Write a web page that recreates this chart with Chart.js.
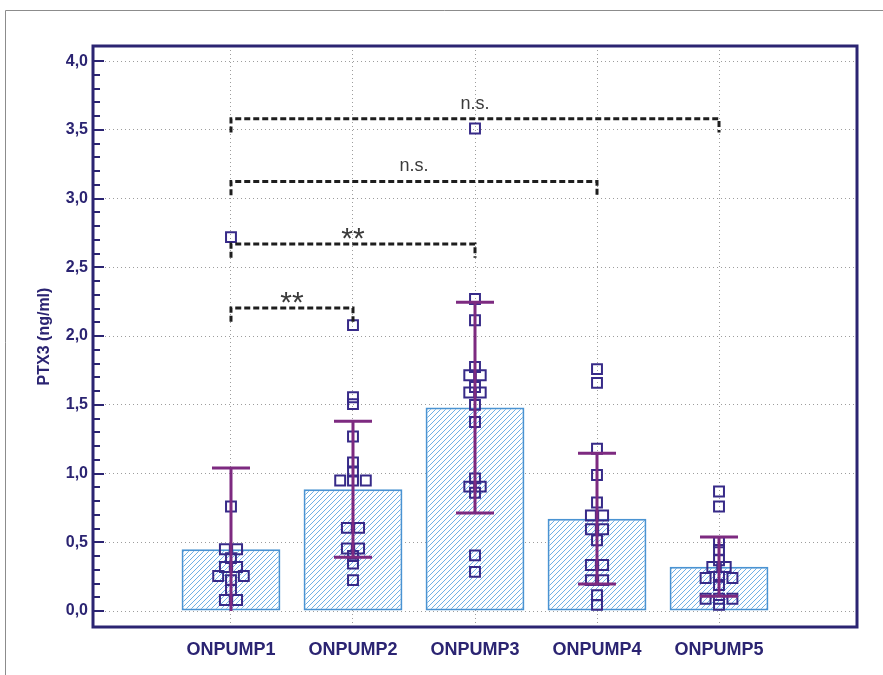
<!DOCTYPE html>
<html>
<head>
<meta charset="utf-8">
<title>PTX3 by ONPUMP group</title>
<script src="https://cdn.jsdelivr.net/npm/chart.js@4/dist/chart.umd.min.js"></script>
<style>
  html, body { margin: 0; padding: 0; background: #ffffff; }
  canvas { display: block; }
</style>
</head>
<body>
<canvas id="c" width="883" height="675"></canvas>
<script>
// Groups and their x positions on the linear axis
const categories = ['ONPUMP1', 'ONPUMP2', 'ONPUMP3', 'ONPUMP4', 'ONPUMP5'];
const groupPos = [1, 2, 3, 4, 5];

// Group means (bar heights) and standard deviations (error bars)
const means = [0.45, 0.886, 1.48, 0.672, 0.323];
const sds = [0.59, 0.495, 0.767, 0.476, 0.215];

// Individual PTX3 values per group, with horizontal jitter of each point
const ptx1 = [2.72, 0.76, 0.45, 0.45, 0.385, 0.32, 0.32, 0.255, 0.255, 0.225, 0.155, 0.08, 0.08];
const jit1 = [0, 0, -0.05, 0.05, 0, -0.05, 0.05, -0.105, 0.105, 0, 0, -0.05, 0.05];
const ptx2 = [2.08, 1.555, 1.505, 1.27, 1.08, 1.015, 0.95, 0.95, 0.95, 0.605, 0.605, 0.455, 0.455, 0.40, 0.345, 0.225];
const jit2 = [0, 0, 0, 0, 0, 0, -0.105, 0, 0.105, -0.05, 0.05, -0.05, 0.05, 0, 0, 0];
const ptx3 = [3.51, 2.27, 2.115, 1.775, 1.715, 1.715, 1.63, 1.59, 1.59, 1.5, 1.375, 0.965, 0.905, 0.905, 0.86, 0.405, 0.285];
const jit3 = [0, 0, 0, 0, -0.047, 0.047, 0, -0.047, 0.047, 0, 0, 0, -0.047, 0.047, 0, 0, 0];
const ptx4 = [1.76, 1.66, 1.18, 0.99, 0.79, 0.695, 0.695, 0.595, 0.595, 0.515, 0.335, 0.335, 0.225, 0.225, 0.115, 0.045];
const jit4 = [0, 0, 0, 0, 0, -0.05, 0.05, -0.05, 0.05, 0, -0.05, 0.05, -0.05, 0.05, 0, 0];
const ptx5 = [0.87, 0.76, 0.50, 0.445, 0.37, 0.32, 0.32, 0.25, 0.24, 0.24, 0.19, 0.09, 0.09, 0.09, 0.045];
const jit5 = [0, 0, 0, 0, 0, -0.055, 0.055, 0, -0.11, 0.11, 0, -0.11, 0, 0.11, 0];

// Pairwise comparisons: from group, to group, bracket level, significance label
const cmpFrom = [1, 1, 1, 1];
const cmpTo = [2, 3, 4, 5];
const cmpLevel = [2.205, 2.67, 3.125, 3.58];
const cmpLabel = ['**', '**', 'n.s.', 'n.s.'];

// Y axis tick values
const yTicks = [0, 0.5, 1, 1.5, 2, 2.5, 3, 3.5, 4];

const NAVY = '#2b2472';
const PURPLE = '#7d2a80';

Chart.defaults.font.family = "'Liberation Sans', Arial, sans-serif";

const groupsValues = [ptx1, ptx2, ptx3, ptx4, ptx5];
const groupsJitter = [jit1, jit2, jit3, jit4, jit5];
const scatterData = [];
groupsValues.forEach((vals, g) => {
  vals.forEach((v, i) => scatterData.push({ x: groupPos[g] + groupsJitter[g][i], y: v }));
});

// Diagonal hatch used to fill the bars
function hatchPattern() {
  const s = 5;
  const p = document.createElement('canvas');
  p.width = s; p.height = s;
  const c = p.getContext('2d');
  c.fillStyle = '#ffffff';
  c.fillRect(0, 0, s, s);
  c.strokeStyle = '#5fa8e3';
  c.lineWidth = 0.9;
  c.beginPath();
  c.moveTo(0, s); c.lineTo(s, 0);
  c.moveTo(-1, 1); c.lineTo(1, -1);
  c.moveTo(s - 1, s + 1); c.lineTo(s + 1, s - 1);
  c.stroke();
  return document.getElementById('c').getContext('2d').createPattern(p, 'repeat');
}

const decorations = {
  id: 'decorations',
  beforeDraw(chart) {
    const ctx = chart.ctx;
    ctx.save();
    ctx.fillStyle = '#ffffff';
    ctx.fillRect(0, 0, chart.width, chart.height);
    ctx.strokeStyle = '#8c8c8c';
    ctx.lineWidth = 1;
    ctx.beginPath();
    ctx.moveTo(5.5, chart.height); ctx.lineTo(5.5, 10.5); ctx.lineTo(chart.width, 10.5);
    ctx.stroke();
    ctx.restore();
  },
  afterDatasetsDraw(chart) {
    const ctx = chart.ctx;
    const xs = chart.scales.x, ys = chart.scales.y;
    ctx.save();
    // error bars (mean ± SD, lower end limited at zero)
    ctx.strokeStyle = PURPLE;
    ctx.lineWidth = 3;
    const capHalf = 19;
    means.forEach((m, i) => {
      const x = xs.getPixelForValue(groupPos[i]);
      const hi = m + sds[i];
      const lo = m - sds[i];
      const yHi = ys.getPixelForValue(hi);
      const yLo = ys.getPixelForValue(Math.max(lo, 0));
      ctx.beginPath();
      ctx.moveTo(x, yHi); ctx.lineTo(x, yLo);
      ctx.moveTo(x - capHalf, yHi); ctx.lineTo(x + capHalf, yHi);
      if (lo > 0) { ctx.moveTo(x - capHalf, yLo); ctx.lineTo(x + capHalf, yLo); }
      ctx.stroke();
    });
    // significance brackets
    ctx.strokeStyle = '#1e1e1e';
    ctx.lineWidth = 3;
    ctx.setLineDash([6, 3]);
    cmpLevel.forEach((lvl, i) => {
      const x1 = xs.getPixelForValue(cmpFrom[i]);
      const x2 = xs.getPixelForValue(cmpTo[i]);
      const y = ys.getPixelForValue(lvl);
      const yd = ys.getPixelForValue(lvl - 0.1);
      ctx.beginPath();
      ctx.moveTo(x1, yd); ctx.lineTo(x1, y); ctx.lineTo(x2, y); ctx.lineTo(x2, yd);
      ctx.stroke();
    });
    ctx.setLineDash([]);
    ctx.fillStyle = '#3a3a3a';
    ctx.textAlign = 'center';
    ctx.textBaseline = 'alphabetic';
    cmpLabel.forEach((lab, i) => {
      const xm = (xs.getPixelForValue(cmpFrom[i]) + xs.getPixelForValue(cmpTo[i])) / 2;
      const y = ys.getPixelForValue(cmpLevel[i]);
      if (lab === '**') {
        ctx.font = "30px 'Liberation Sans', Arial, sans-serif";
        ctx.fillText(lab, xm, y + 4);
      } else {
        ctx.font = "18px 'Liberation Sans', Arial, sans-serif";
        ctx.fillText(lab, xm, y - 10);
      }
    });
    ctx.restore();
  },
  afterDraw(chart) {
    const ctx = chart.ctx;
    const a = chart.chartArea;
    const ys = chart.scales.y;
    ctx.save();
    ctx.strokeStyle = NAVY;
    // inward ticks on the value axis, minor every 0.1
    ctx.lineWidth = 2;
    ctx.beginPath();
    for (let i = 0; i <= 40; i++) {
      const y = Math.round(ys.getPixelForValue(i / 10));
      const len = i % 5 === 0 ? 11 : 7;
      ctx.moveTo(a.left, y); ctx.lineTo(a.left + len, y);
    }
    ctx.stroke();
    // plot frame
    ctx.lineWidth = 3;
    ctx.strokeRect(a.left, a.top, a.right - a.left, a.bottom - a.top);
    ctx.restore();
  }
};

new Chart(document.getElementById('c'), {
  type: 'bar',
  data: {
    datasets: [
      {
        type: 'scatter',
        order: 0,
        data: scatterData,
        pointStyle: 'rect',
        pointRadius: 7,
        borderColor: '#372a88',
        borderWidth: 2,
        backgroundColor: 'rgba(0,0,0,0)'
      },
      {
        type: 'bar',
        order: 1,
        data: means.map((m, i) => ({ x: groupPos[i], y: m })),
        backgroundColor: hatchPattern(),
        borderColor: '#4a93d2',
        borderWidth: 2,
        borderSkipped: false,
        barPercentage: 0.81,
        categoryPercentage: 1
      }
    ]
  },
  options: {
    responsive: false,
    devicePixelRatio: 1,
    animation: false,
    layout: { padding: { top: 46, right: 26, bottom: 0, left: 0 } },
    plugins: { legend: { display: false }, tooltip: { enabled: false } },
    scales: {
      x: {
        type: 'linear',
        offset: false,
        min: -0.131,
        max: 6.131,
        afterBuildTicks: (s) => { s.ticks = groupPos.map(v => ({ value: v })); },
        afterFit: (s) => { s.height = 48; },
        grid: { offset: false, color: '#9d9d9d', lineWidth: 1, drawTicks: false },
        border: { display: false, dash: [1, 3] },
        ticks: {
          padding: 12,
          color: NAVY,
          font: { size: 18, weight: 'bold' },
          callback: (v) => categories[groupPos.indexOf(v)] || ''
        }
      },
      y: {
        min: -0.116,
        max: 4.11,
        afterBuildTicks: (s) => { s.ticks = yTicks.map(v => ({ value: v })); },
        afterFit: (s) => { s.width = 93; },
        grid: { color: '#9d9d9d', lineWidth: 1, drawTicks: false },
        border: { display: false, dash: [1, 3] },
        ticks: {
          padding: 5,
          color: NAVY,
          font: { size: 16, weight: 'bold' },
          callback: (v) => v.toFixed(1).replace('.', ',')
        },
        title: {
          display: true,
          text: 'PTX3 (ng/ml)',
          color: NAVY,
          font: { size: 16, weight: 'bold' },
          padding: { top: 35, bottom: 0 }
        }
      }
    }
  },
  plugins: [decorations]
});
</script>
</body>
</html>
